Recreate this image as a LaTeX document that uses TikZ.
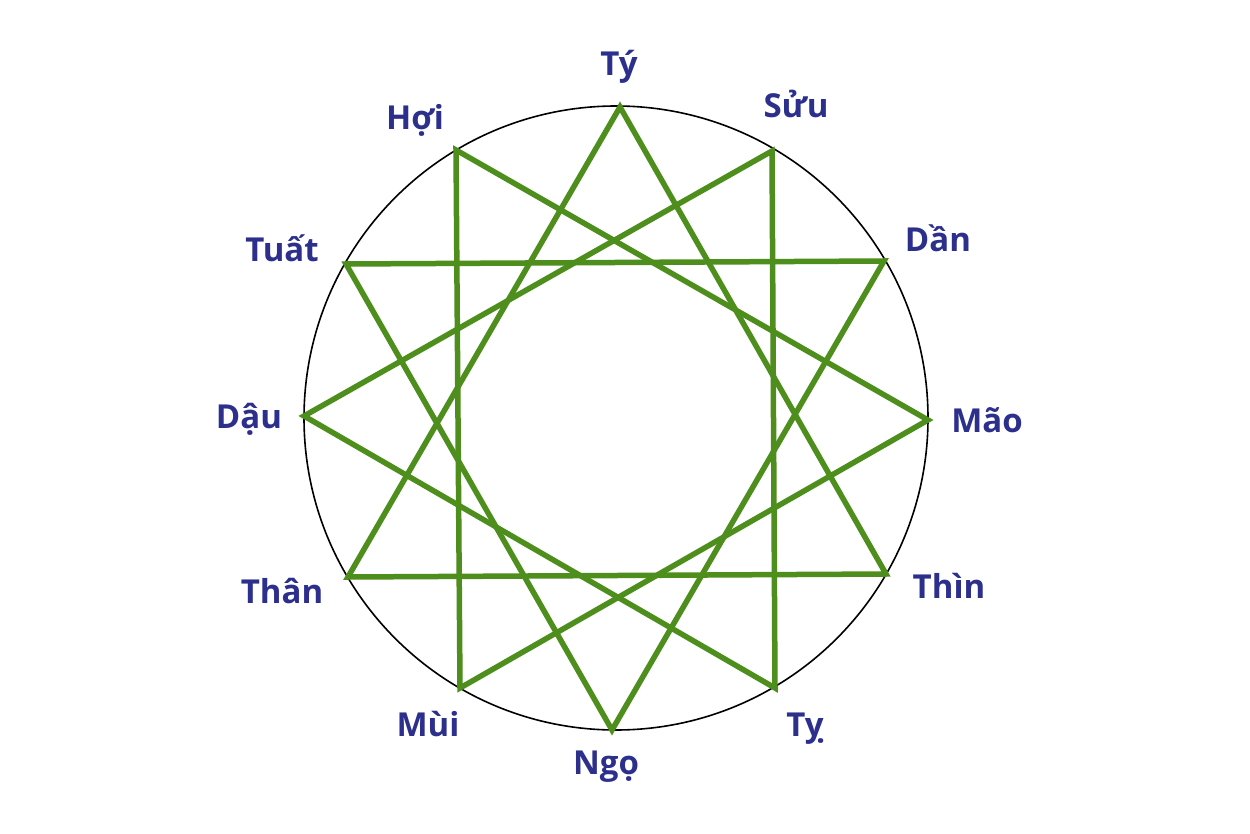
\documentclass[tikz,border=0pt]{standalone}
\usepackage{fontspec}
\setmainfont{Open Sans}
\usepackage{xcolor}
\definecolor{chiblue}{RGB}{44,48,140}
\definecolor{chigreen}{RGB}{78,142,28}

\begin{document}
\begin{tikzpicture}[x=1pt,y=-1pt,
  chi/.style={text=chiblue,font=\bfseries\fontsize{33}{40}\selectfont,anchor=base,inner sep=0pt},
  tam/.style={chigreen,line width=5.5pt}]
\useasboundingbox (0,0) rectangle (1250,834);
\draw[black,line width=1.6pt] (616,418) circle (312pt);
% vertices
\coordinate (ty) at (620,107);
\coordinate (suu) at (772,151);
\coordinate (dan) at (884,261);
\coordinate (mao) at (928,420);
\coordinate (thin) at (886,574);
\coordinate (ti) at (775,688);
\coordinate (ngo) at (612,730);
\coordinate (mui) at (460,688);
\coordinate (than) at (348,577);
\coordinate (dau) at (304,416);
\coordinate (tuat) at (346,264);
\coordinate (hoi) at (456,150);
% triangles
\draw[tam] (ty) -- (thin) -- (than) -- cycle;
\draw[tam] (suu) -- (ti) -- (dau) -- cycle;
\draw[tam] (dan) -- (ngo) -- (tuat) -- cycle;
\draw[tam] (hoi) -- (mao) -- (mui) -- cycle;
% labels
\node[chi] (lty) at (619,76) {Tý};
\node[chi] (lsuu) at (796,118) {Sửu};
\node[chi] (ldan) at (938,252) {Dần};
\node[chi] (lmao) at (987,432) {Mão};
\node[chi] (lthin) at (949,598) {Thìn};
\node[chi] (lti) at (805,736) {Tỵ};
\node[chi] (lngo) at (606,774) {Ngọ};
\node[chi] (lmui) at (428,736) {Mùi};
\node[chi] (lthan) at (282,603) {Thân};
\node[chi] (ldau) at (249,428) {Dậu};
\node[chi] (ltuat) at (282,262) {Tuất};
\node[chi] (lhoi) at (415,130) {Hợi};
\end{tikzpicture}
\end{document}
